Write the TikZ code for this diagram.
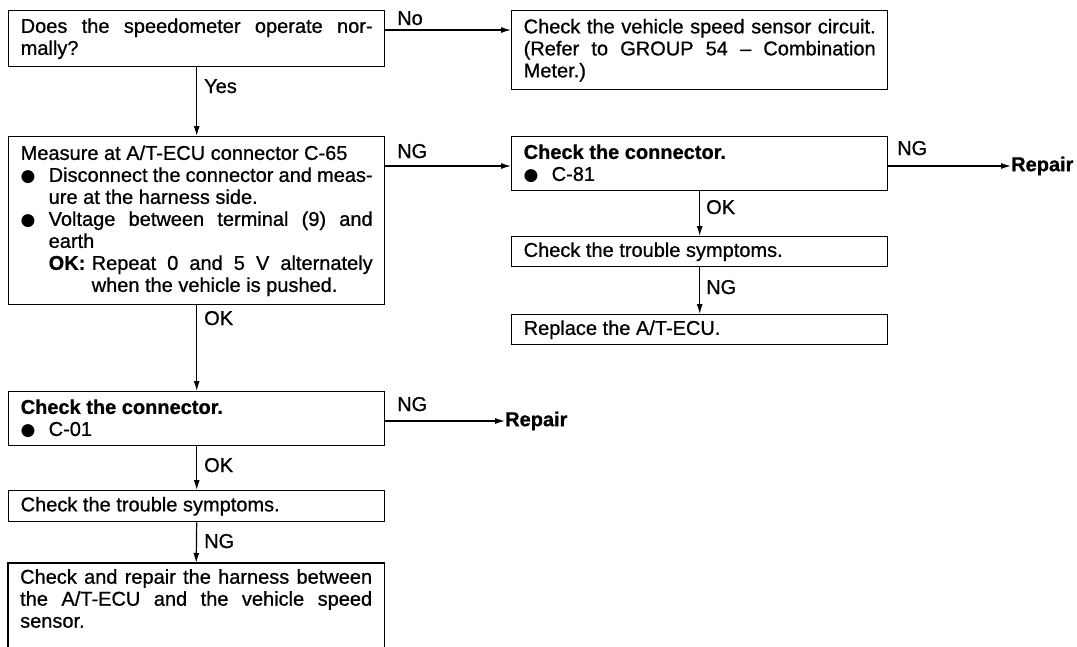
\documentclass[tikz,border=0pt]{standalone}
\usepackage{fontspec}
\setmainfont{Liberation Sans}[RawFeature={embolden=0.8}]
\newfontfamily\symfont{DejaVu Sans}
\usetikzlibrary{arrows.meta}
\hyphenpenalty=10000
\exhyphenpenalty=10000
\newcommand{\bul}{\makebox[28pt][l]{{\symfont\fontsize{17}{17}\selectfont ●}}}
\newcommand{\boxfont}{\fontsize{20}{22}\selectfont\spaceskip=5.56pt plus 30pt minus 1.5pt\parindent=0pt\tolerance=10000\relax}
\begin{document}
\begin{tikzpicture}[x=1pt,y=-1pt,
  box/.style={draw, line width=1.4pt, anchor=north west, minimum width=376pt,
    text width=352pt, inner xsep=12pt, inner ysep=0pt, align=justify, font=\boxfont},
  opentext/.style={anchor=north west, minimum width=376pt,
    text width=352pt, inner xsep=12pt, inner ysep=6pt, align=justify, font=\boxfont},
  lbl/.style={anchor=base west, inner sep=0pt, font=\boxfont},
  rep/.style={anchor=west, inner sep=0pt, font=\boxfont\bfseries},
  arr/.style={line width=1.2pt, -{Latex[length=10pt,width=6pt]}},
  frame/.style={line width=1.4pt}]
\useasboundingbox (0,0) rectangle (1077,646);
\fill[white] (0,0) rectangle (1077,646);

% left column
\node[box, minimum height=56pt] (b1) at (8,10)
  {Does the speedometer operate nor-\linebreak mally?};
\node[box, minimum height=168pt] (b3) at (8,136)
  {Measure at A/T-ECU connector C-65\par
   \hangindent=28pt\hangafter=1\bul Disconnect the connector and meas-\linebreak ure at the harness side.\par
   \hangindent=28pt\hangafter=1\bul Voltage between terminal (9) and\linebreak earth\par
   \hangindent=71pt\hangafter=1\hspace*{28pt}\makebox[43pt][l]{\bfseries OK:}Repeat 0 and 5 V alternately\linebreak when the vehicle is pushed.\par};
\node[box, minimum height=54pt] (b7) at (8,391)
  {{\bfseries Check the connector.}\par\bul C-01};
\node[box, minimum height=31pt] (b8) at (8,490)
  {Check the trouble symptoms.};
\node[opentext] (b9) at (8,563)
  {Check and repair the harness between\linebreak the A/T-ECU and the vehicle speed\linebreak sensor.};
\draw[frame] ([yshift=-120pt]b9.north west) -- (b9.north west) -- (b9.north east) -- ([yshift=-120pt]b9.north east);

% right column
\node[box, minimum height=79pt] (b2) at (511,10)
  {Check the vehicle speed sensor circuit.\linebreak (Refer to GROUP 54 \textendash{} Combination\linebreak Meter.)};
\node[box, minimum height=54pt] (b4) at (511,136)
  {{\bfseries Check the connector.}\par\bul C-81};
\node[box, minimum height=30pt] (b5) at (511,236)
  {Check the trouble symptoms.};
\node[box, minimum height=30pt] (b6) at (511,314)
  {Replace the A/T-ECU.};

\node[rep] (rep1) at (1011,166) {Repair};
\node[rep] (rep2) at (505,421) {Repair};

% connectors
\draw[arr] ([yshift=-20pt]b1.north east) -- ([yshift=-20pt]b2.north west);
\draw[arr] (b1.south) -- (b3.north);
\draw[arr] ([yshift=-30pt]b3.north east) -- ([yshift=-30pt]b4.north west);
\draw[arr] ([yshift=-30pt]b4.north east) -- (rep1.west);
\draw[arr] (b4.south) -- (b5.north);
\draw[arr] (b5.south) -- (b6.north);
\draw[arr] (b3.south) -- (b7.north);
\draw[arr] ([yshift=-30pt]b7.north east) -- (rep2.west);
\draw[arr] (b7.south) -- (b8.north);
\draw[arr] (b8.south) -- (b9.north);

% labels
\node[lbl] (lNo) at (397,25) {No};
\node[lbl] (lYes) at (204,93) {Yes};
\node[lbl] (lNG1) at (397,158) {NG};
\node[lbl] (lNG2) at (897,155) {NG};
\node[lbl] (lOK1) at (706,214) {OK};
\node[lbl] (lNG3) at (706,294) {NG};
\node[lbl] (lOK2) at (204,325) {OK};
\node[lbl] (lNG4) at (397,411) {NG};
\node[lbl] (lOK3) at (204,472) {OK};
\node[lbl] (lNG5) at (204,548) {NG};
\end{tikzpicture}
\end{document}
